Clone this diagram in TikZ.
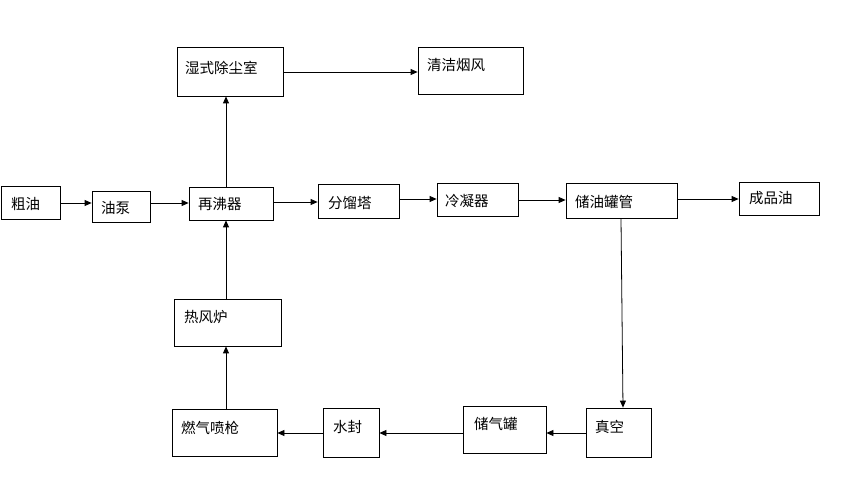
\documentclass[tikz,border=0pt]{standalone}
\usepackage{fontspec}
\usepackage{xcolor}
\usetikzlibrary{arrows.meta}
\setmainfont{Noto Sans CJK SC}

\begin{document}
\begin{tikzpicture}[x=1pt,y=1pt,yscale=-1,xscale=1,
  box/.style={draw=black,line width=0.8pt,inner sep=0pt},
  lbl/.style={anchor=west,inner sep=0pt,font=\fontsize{14.5}{17}\selectfont},
  arr/.style={draw=black,line width=0.8pt,-{Triangle[length=7pt,width=6pt]}}]
\useasboundingbox (0,0) rectangle (844,494);

%Boxes
\node[box,minimum width=59,minimum height=33] (cuyou) at (30.5,202.5) {};
\node[box,minimum width=58,minimum height=31] (youbeng) at (121,206.5) {};
\node[box,minimum width=84,minimum height=33] (zaifei) at (231,203.5) {};
\node[box,minimum width=81,minimum height=34] (fenliu) at (358.5,201) {};
\node[box,minimum width=81,minimum height=33] (lengning) at (477.5,199.5) {};
\node[box,minimum width=111,minimum height=35] (chuyou) at (621.5,200.5) {};
\node[box,minimum width=80,minimum height=33] (chengpin) at (779,198.5) {};
\node[box,minimum width=106,minimum height=49] (chuchen) at (230,71.5) {};
\node[box,minimum width=105,minimum height=47] (qingjie) at (470.5,70.5) {};
\node[box,minimum width=107,minimum height=47] (refeng) at (227.5,322.5) {};
\node[box,minimum width=105,minimum height=47] (ranqi) at (224.5,432.5) {};
\node[box,minimum width=56,minimum height=49] (shuifeng) at (351,432.5) {};
\node[box,minimum width=83,minimum height=47] (chuqi) at (504.5,429.5) {};
\node[box,minimum width=65,minimum height=49] (zhenkong) at (618.5,432.5) {};

% Text Node
\node[lbl] (t-cuyou) at (11,204) {粗油};
\node[lbl] (t-youbeng) at (101,208) {油泵};
\node[lbl] (t-zaifei) at (198,204) {再沸器};
\node[lbl] (t-fenliu) at (328,203) {分馏塔};
\node[lbl] (t-lengning) at (445,201) {冷凝器};
\node[lbl] (t-chuyou) at (575,202) {储油罐管};
\node[lbl] (t-chengpin) at (749,198) {成品油};
\node[lbl] (t-chuchen) at (185,68) {湿式除尘室};
\node[lbl] (t-qingjie) at (427,65) {清洁烟风};
\node[lbl] (t-refeng) at (184,317) {热风炉};
\node[lbl] (t-ranqi) at (181,428) {燃气喷枪};
\node[lbl] (t-shuifeng) at (333,427) {水封};
\node[lbl] (t-chuqi) at (474,424) {储气罐};
\node[lbl] (t-zhenkong) at (595,427) {真空};

%Straight Lines
\draw[arr] (cuyou.east |- 0,203) -- (youbeng.west |- 0,203);
\draw[arr] (youbeng.east |- 0,203) -- (zaifei.west |- 0,203);
\draw[arr] (zaifei.east |- 0,202) -- (fenliu.west |- 0,202);
\draw[arr] (fenliu.east |- 0,199) -- (lengning.west |- 0,199);
\draw[arr] (lengning.east |- 0,200) -- (chuyou.west |- 0,200);
\draw[arr] (chuyou.east |- 0,199) -- (chengpin.west |- 0,199);
\draw[arr] (zaifei.north -| 226,0) -- (chuchen.south -| 226,0);
\draw[arr] (chuchen.east |- 0,72) -- (qingjie.west |- 0,72);
\draw[arr] (refeng.north -| 226,0) -- (zaifei.south -| 226,0);
\draw[arr] (ranqi.north -| 226,0) -- (refeng.south -| 226,0);
\draw[arr] (chuyou.south -| 621,0) -- (zhenkong.north -| 623,0);
\draw[arr] (zhenkong.west |- 0,433) -- (chuqi.east |- 0,433);
\draw[arr] (chuqi.west |- 0,433) -- (shuifeng.east |- 0,433);
\draw[arr] (shuifeng.west |- 0,433) -- (ranqi.east |- 0,433);

\end{tikzpicture}
\end{document}
